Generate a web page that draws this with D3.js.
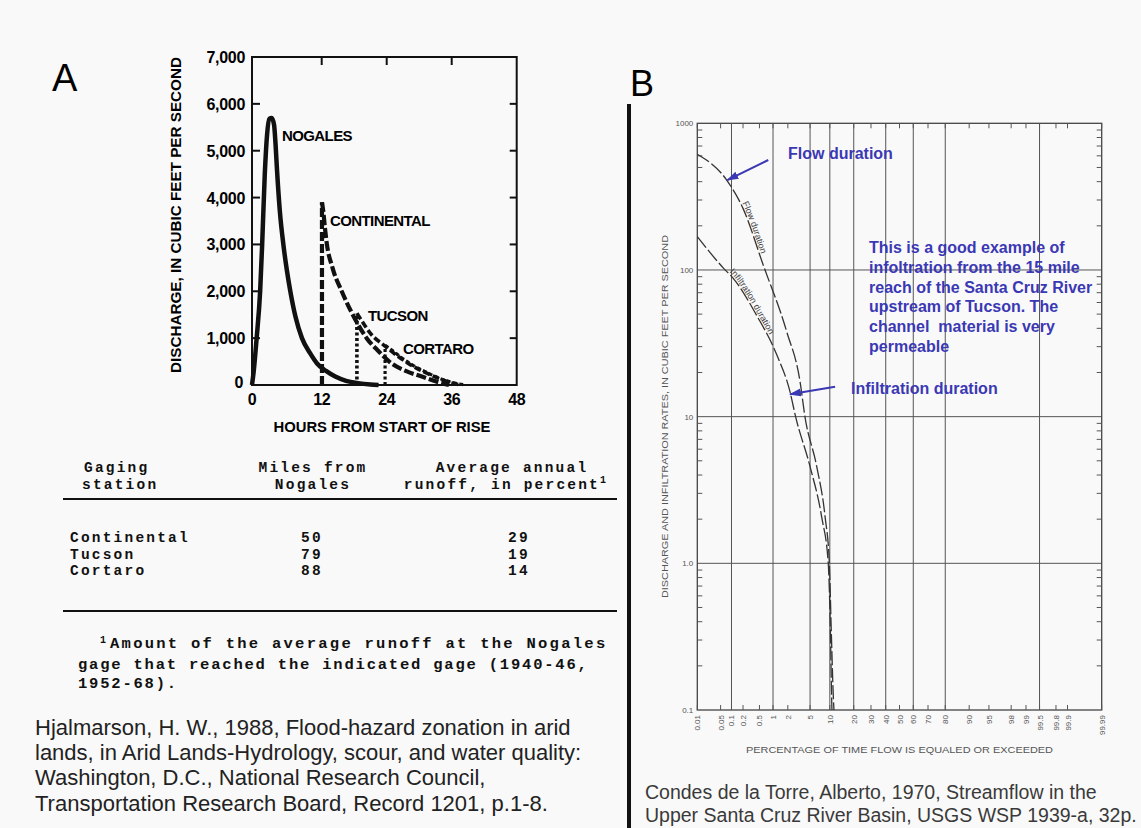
<!DOCTYPE html>
<html>
<head>
<meta charset="utf-8">
<script src="https://cdn.jsdelivr.net/npm/d3@7"></script>
<style>
  body { margin: 0; background: #f9f9f9; }
  svg { display: block; }
</style>
</head>
<body>
<div id="chart"></div>
<script>
// Size of the whole figure
var width = 1141, height = 828;

// Panel A hydrographs, [hours from start of rise, discharge cfs]
var nogales = [[0, 0], [0.3, 300], [0.8, 1000], [1.4, 2000], [1.75, 3000], [2.2, 4500], [2.6, 5350],
  [3.0, 5680], [3.4, 5700], [3.8, 5550], [4.05, 5150], [4.3, 4600], [4.8, 3700], [5.4, 3000],
  [6.0, 2450], [6.6, 2000], [7.5, 1450], [8.6, 1000], [10, 680], [11.2, 460], [12.8, 300],
  [14.5, 180], [16.5, 90], [18.7, 40], [21, 10], [22.5, 0]];
var continental = [[12.05, 3900], [12.3, 3700], [12.6, 3350], [12.9, 3050], [14, 2500], [15.7, 2000],
  [18.1, 1420], [20.3, 1000], [22.5, 720], [24.9, 460], [27.5, 300], [30.5, 180], [33, 80], [35.5, 0]];
var tucson = [[18.5, 1530], [19.5, 1350], [21, 1100], [23.7, 830], [26, 620], [28, 460], [30, 330],
  [32, 220], [34, 120], [36, 45], [37.5, 0]];
var cortaro = [[23.7, 850], [25, 740], [27, 560], [29, 410], [31, 290], [33, 180], [35, 90], [37, 30], [38.5, 0]];
var hydroNames = ["NOGALES", "CONTINENTAL", "TUCSON", "CORTARO"];
var yTicksA = [0, 1000, 2000, 3000, 4000, 5000, 6000, 7000];
var xTicksA = [0, 12, 24, 36, 48];

// Panel A table
var stations = ["Continental", "Tucson", "Cortaro"];
var milesFromNogales = [50, 79, 88];
var runoffPercent = [29, 19, 14];

// Panel B duration curves, [percent of time, cfs]
var flowPct = [0.01, 0.074, 0.2, 0.61, 1.9, 3.37, 4.1, 6.4, 8.55, 9.85, 10.5, 11.2, 11.4];
var flowCfs = [615, 410, 263, 108, 38, 17.3, 10, 4.56, 2.08, 1.0, 0.333, 0.12, 0.1];
var infilPct = [0.01, 0.06, 0.11, 0.43, 1.2, 2.2, 2.8, 5.0, 7.6, 9.5, 10.2, 10.6, 10.7];
var infilCfs = [169, 103, 88, 49, 26.4, 14.8, 10, 4.56, 2.08, 1.0, 0.333, 0.12, 0.1];
var probTicks = [0.01, 0.05, 0.1, 0.2, 0.5, 1, 2, 5, 10, 20, 30, 40, 50, 60, 70, 80, 90, 95, 98, 99, 99.5, 99.8, 99.9, 99.99];
var probGrid = [0.1, 1, 5, 10, 20, 40, 60, 80, 99.5];
var logTicks = [1000, 100, 10, 1, 0.1];
var logTickLabels = ["1000", "100", "10", "1.0", "0.1"];
// blue arrows, [from pct, from cfs, to pct, to cfs]
var arrows = [[0.79, 562, 0.077, 410], [11.8, 16.0, 2.2, 14.2]];

var blue = "#3b38b4";

var svg = d3.select("#chart").append("svg")
    .attr("width", width)
    .attr("height", height);

// ---------------- Panel A ----------------
var xA = d3.scaleLinear().domain([0, 12, 48]).range([252, 321.7, 516.7]);
var yA = d3.scaleLinear().domain([0, 7000]).range([385, 57]);

svg.append("text").attr("x", 52).attr("y", 91)
    .style("font-family", "Liberation Sans, Arial").style("font-size", "38px").text("A");

svg.append("rect")
    .attr("x", xA(0)).attr("y", yA(7000))
    .attr("width", xA(48) - xA(0)).attr("height", yA(0) - yA(7000))
    .attr("fill", "none").attr("stroke", "#111").attr("stroke-width", 2);

var gA = svg.append("g")
    .style("font-family", "Liberation Sans, Arial")
    .style("font-weight", "bold");

// ticks
yTicksA.slice(1, 7).forEach(function(v) {
    gA.append("line").attr("x1", xA(0)).attr("x2", xA(0) + 8).attr("y1", yA(v)).attr("y2", yA(v))
        .attr("stroke", "#111").attr("stroke-width", 2);
    gA.append("line").attr("x1", xA(48)).attr("x2", xA(48) - 7).attr("y1", yA(v)).attr("y2", yA(v))
        .attr("stroke", "#111").attr("stroke-width", 2);
});
xTicksA.slice(1, 4).forEach(function(v) {
    gA.append("line").attr("x1", xA(v)).attr("x2", xA(v)).attr("y1", yA(7000)).attr("y2", yA(7000) + 8)
        .attr("stroke", "#111").attr("stroke-width", 2);
});

// tick labels
var fmt = d3.format(",");
gA.selectAll(".ylab").data(yTicksA.slice(1)).join("text")
    .attr("x", xA(0) - 7).attr("y", d => yA(d) + 6)
    .attr("text-anchor", "end").style("font-size", "16px").style("letter-spacing", "-0.3px")
    .text(d => fmt(d));
gA.append("text").attr("x", xA(0) - 13).attr("y", yA(0) + 3)
    .attr("text-anchor", "middle").style("font-size", "16px").text("0");
gA.selectAll(".xlab").data(xTicksA).join("text")
    .attr("x", d => xA(d)).attr("y", 405)
    .attr("text-anchor", "middle").style("font-size", "16px").style("letter-spacing", "-0.5px")
    .text(d => d);

gA.append("text").attr("x", 382).attr("y", 432).attr("text-anchor", "middle")
    .attr("textLength", 217).attr("lengthAdjust", "spacingAndGlyphs")
    .style("font-size", "14px").text("HOURS FROM START OF RISE");
gA.append("text").attr("transform", "translate(181,215) rotate(-90)").attr("text-anchor", "middle")
    .attr("textLength", 316).attr("lengthAdjust", "spacingAndGlyphs")
    .style("font-size", "15px").text("DISCHARGE, IN CUBIC FEET PER SECOND");

// curves
var lineA = d3.line().x(d => xA(d[0])).y(d => yA(d[1])).curve(d3.curveMonotoneX);
var seriesA = [
    { data: nogales, dash: null, w: 4.5, rise: null },
    { data: continental, dash: "10,3", w: 4.2, rise: "9,3" },
    { data: tucson, dash: "7,3", w: 3.6, rise: "3,2.5" },
    { data: cortaro, dash: "4,2.5", w: 3.2, rise: "3,2.5" }
];
seriesA.forEach(function(s) {
    if (s.rise) {
        gA.append("line")
            .attr("x1", xA(s.data[0][0])).attr("x2", xA(s.data[0][0]))
            .attr("y1", yA(0)).attr("y2", yA(s.data[0][1]))
            .attr("stroke", "#111").attr("stroke-width", s.w).attr("stroke-dasharray", s.rise);
    }
    gA.append("path").datum(s.data)
        .attr("d", lineA)
        .attr("fill", "none").attr("stroke", "#111")
        .attr("stroke-width", s.w).attr("stroke-linejoin", "round")
        .attr("stroke-dasharray", s.dash);
});

// curve labels
var labelPos = [[282, 141], [330, 226], [368, 321], [403, 354]];
gA.selectAll(".hname").data(hydroNames).join("text")
    .attr("x", (d, i) => labelPos[i][0]).attr("y", (d, i) => labelPos[i][1])
    .style("font-size", "15px").style("letter-spacing", "-0.6px")
    .text(d => d);

// table
var mono = "Liberation Mono, Courier New, monospace";
var gT = svg.append("g").style("font-family", mono).style("font-weight", "bold")
    .style("font-size", "14.5px").style("letter-spacing", "2.2px").attr("fill", "#111");
gT.append("text").attr("x", 84).attr("y", 472).text("Gaging");
gT.append("text").attr("x", 82).attr("y", 489).text("station");
gT.append("text").attr("x", 313).attr("y", 472).attr("text-anchor", "middle").text("Miles from");
gT.append("text").attr("x", 313).attr("y", 489).attr("text-anchor", "middle").text("Nogales");
gT.append("text").attr("x", 512).attr("y", 472).attr("text-anchor", "middle").text("Average annual");
var hdr = gT.append("text").attr("x", 506).attr("y", 489).attr("text-anchor", "middle");
hdr.append("tspan").text("runoff, in percent");
hdr.append("tspan").attr("dy", -6).style("font-size", "10px").text("1");

svg.append("line").attr("x1", 63).attr("x2", 617).attr("y1", 499).attr("y2", 499)
    .attr("stroke", "#111").attr("stroke-width", 2.2);
svg.append("line").attr("x1", 63).attr("x2", 617).attr("y1", 611).attr("y2", 611)
    .attr("stroke", "#111").attr("stroke-width", 2.2);

stations.forEach(function(s, i) {
    var y = 542 + i * 16.5;
    gT.append("text").attr("x", 70).attr("y", y).text(s);
    gT.append("text").attr("x", 312).attr("y", y).attr("text-anchor", "middle").text(milesFromNogales[i]);
    gT.append("text").attr("x", 519).attr("y", y).attr("text-anchor", "middle").text(runoffPercent[i]);
});

// footnote
var gF = svg.append("g").style("font-family", mono).style("font-weight", "bold")
    .style("font-size", "15.5px").style("letter-spacing", "1.8px").attr("fill", "#111");
gF.append("text").attr("x", 100).attr("y", 643).style("font-size", "10px").text("1");
gF.append("text").attr("x", 110).attr("y", 648)
    .attr("textLength", 497).attr("lengthAdjust", "spacing")
    .text("Amount of the average runoff at the Nogales");
gF.append("text").attr("x", 78).attr("y", 669).text("gage that reached the indicated gage (1940-46,");
gF.append("text").attr("x", 78).attr("y", 687.5).text("1952-68).");

// citation A
var citeA = ["Hjalmarson, H. W., 1988, Flood-hazard zonation in arid",
    "lands, in Arid Lands-Hydrology, scour, and water quality:",
    "Washington, D.C., National Research Council,",
    "Transportation Research Board, Record 1201, p.1-8."];
svg.selectAll(".citeA").data(citeA).join("text")
    .attr("x", 35).attr("y", (d, i) => 735 + i * 25.2)
    .style("font-family", "Liberation Sans, Arial").style("font-size", "22px")
    .attr("fill", "#222").text(d => d);

// ---------------- Panel B ----------------
svg.append("rect").attr("x", 627).attr("y", 104).attr("width", 4).attr("height", 724).attr("fill", "#111");
svg.append("text").attr("x", 630).attr("y", 96)
    .style("font-family", "Liberation Sans, Arial").style("font-size", "36px").text("B");

// inverse normal (probability paper)
function normInv(p) {
    var a = [-3.969683028665376e+01, 2.209460984245205e+02, -2.759285104469687e+02, 1.383577518672690e+02, -3.066479806614716e+01, 2.506628277459239e+00];
    var b = [-5.447609879822406e+01, 1.615858368580409e+02, -1.556989798598866e+02, 6.680131188771972e+01, -1.328068155288572e+01];
    var c = [-7.784894002430293e-03, -3.223964580411365e-01, -2.400758277161838e+00, -2.549732539343734e+00, 4.374664141464968e+00, 2.938163982698783e+00];
    var d = [7.784695709041462e-03, 3.224671290700398e-01, 2.445134137142996e+00, 3.754408661907416e+00];
    var plow = 0.02425, q, r;
    if (p < plow) {
        q = Math.sqrt(-2 * Math.log(p));
        return (((((c[0] * q + c[1]) * q + c[2]) * q + c[3]) * q + c[4]) * q + c[5]) / ((((d[0] * q + d[1]) * q + d[2]) * q + d[3]) * q + 1);
    }
    if (p > 1 - plow) {
        q = Math.sqrt(-2 * Math.log(1 - p));
        return -(((((c[0] * q + c[1]) * q + c[2]) * q + c[3]) * q + c[4]) * q + c[5]) / ((((d[0] * q + d[1]) * q + d[2]) * q + d[3]) * q + 1);
    }
    q = p - 0.5; r = q * q;
    return (((((a[0] * r + a[1]) * r + a[2]) * r + a[3]) * r + a[4]) * r + a[5]) * q / (((((b[0] * r + b[1]) * r + b[2]) * r + b[3]) * r + b[4]) * r + 1);
}

var zB = d3.scaleLinear().domain([normInv(0.0001), normInv(0.9999)]).range([697.3, 1101.7]);
var xB = p => zB(normInv(p / 100));
var yB = d3.scaleLog().domain([0.1, 1000]).range([710, 123.3]);

var gB = svg.append("g").style("font-family", "Liberation Sans, Arial");

// grid
gB.selectAll(".vgrid").data(probGrid).join("line")
    .attr("x1", d => xB(d)).attr("x2", d => xB(d)).attr("y1", yB(1000)).attr("y2", yB(0.1))
    .attr("stroke", "#555").attr("stroke-width", 1);
gB.selectAll(".hgrid").data([100, 10, 1]).join("line")
    .attr("x1", xB(0.01)).attr("x2", xB(99.99)).attr("y1", d => yB(d)).attr("y2", d => yB(d))
    .attr("stroke", "#555").attr("stroke-width", 1);
gB.append("rect").attr("x", xB(0.01)).attr("y", yB(1000))
    .attr("width", xB(99.99) - xB(0.01)).attr("height", yB(0.1) - yB(1000))
    .attr("fill", "none").attr("stroke", "#444").attr("stroke-width", 1.3);

// minor log ticks
var minor = [];
[0.1, 1, 10, 100].forEach(function(dec) {
    for (var k = 2; k <= 9; k++) minor.push(dec * k);
});
gB.selectAll(".mtl").data(minor).join("line")
    .attr("x1", xB(0.01)).attr("x2", xB(0.01) + 5).attr("y1", d => yB(d)).attr("y2", d => yB(d))
    .attr("stroke", "#555");
gB.selectAll(".mtr").data(minor).join("line")
    .attr("x1", xB(99.99)).attr("x2", xB(99.99) - 5).attr("y1", d => yB(d)).attr("y2", d => yB(d))
    .attr("stroke", "#555");
gB.selectAll(".ptt").data(probTicks).join("line")
    .attr("x1", d => xB(d)).attr("x2", d => xB(d)).attr("y1", yB(1000)).attr("y2", yB(1000) + 5)
    .attr("stroke", "#555");
gB.selectAll(".ptb").data(probTicks).join("line")
    .attr("x1", d => xB(d)).attr("x2", d => xB(d)).attr("y1", yB(0.1)).attr("y2", yB(0.1) - 5)
    .attr("stroke", "#555");

// tick labels
gB.selectAll(".ylb").data(logTicks).join("text")
    .attr("x", xB(0.01) - 4).attr("y", d => yB(d) + 3)
    .attr("text-anchor", "end").style("font-size", "8px").attr("fill", "#555")
    .text((d, i) => logTickLabels[i]);
gB.selectAll(".xlb").data(probTicks).join("text")
    .attr("transform", d => "translate(" + (xB(d) + 3) + "," + (yB(0.1) + 5) + ") rotate(-90)")
    .attr("text-anchor", "end").style("font-size", "8px").attr("fill", "#555")
    .text(d => d);

gB.append("text").attr("x", 899.5).attr("y", 753).attr("text-anchor", "middle")
    .attr("textLength", 307).attr("lengthAdjust", "spacingAndGlyphs")
    .style("font-size", "9px").attr("fill", "#555")
    .text("PERCENTAGE OF TIME FLOW IS EQUALED OR EXCEEDED");
gB.append("text").attr("transform", "translate(668,416.5) rotate(-90)").attr("text-anchor", "middle")
    .attr("textLength", 363).attr("lengthAdjust", "spacingAndGlyphs")
    .style("font-size", "9px").attr("fill", "#555")
    .text("DISCHARGE AND INFILTRATION RATES, IN CUBIC FEET PER SECOND");

// duration curves
var lineB = d3.line().x(d => xB(d[0])).y(d => yB(d[1])).curve(d3.curveMonotoneX);
var curvesB = [
    { id: "flowCurve", data: d3.zip(flowPct, flowCfs), label: "Flow duration", startY: 203 },
    { id: "infilCurve", data: d3.zip(infilPct, infilCfs), label: "Infiltration duration", startY: 273 }
];
curvesB.forEach(function(c) {
    var p = gB.append("path").datum(c.data)
        .attr("id", c.id)
        .attr("d", lineB)
        .attr("fill", "none").attr("stroke", "#333").attr("stroke-width", 1.3)
        .attr("stroke-dasharray", "14,3");
    // find where the label starts along the curve
    var node = p.node(), total = node.getTotalLength(), off = 0;
    for (var l = 0; l < total; l += 1) {
        if (node.getPointAtLength(l).y >= c.startY) { off = l; break; }
    }
    gB.append("text").attr("dy", -1.5).style("font-size", "9px").attr("fill", "#444")
        .append("textPath").attr("href", "#" + c.id).attr("startOffset", off)
        .text(c.label);
});

// blue annotations
svg.append("defs").append("marker")
    .attr("id", "arrowBlue").attr("markerUnits", "userSpaceOnUse")
    .attr("markerWidth", 12).attr("markerHeight", 10)
    .attr("refX", 11).attr("refY", 4).attr("orient", "auto")
    .append("path").attr("d", "M0,0 L12,4 L0,8 Z").attr("fill", blue);
svg.selectAll(".arr").data(arrows).join("line")
    .attr("x1", d => xB(d[0])).attr("y1", d => yB(d[1]))
    .attr("x2", d => xB(d[2])).attr("y2", d => yB(d[3]))
    .attr("stroke", blue).attr("stroke-width", 2)
    .attr("marker-end", "url(#arrowBlue)");

var gN = svg.append("g").style("font-family", "Liberation Sans, Arial")
    .style("font-weight", "bold").style("font-size", "16px").attr("fill", blue);
gN.append("text").attr("x", 788).attr("y", 159).text("Flow duration");
gN.append("text").attr("x", 851).attr("y", 394).text("Infiltration duration");
var note = ["This is a good example of", "infoltration from the 15 mile", "reach of the Santa Cruz River",
    "upstream of Tucson. The", "channel  material is very", "permeable"];
gN.selectAll(".note").data(note).join("text")
    .attr("x", 869).attr("y", (d, i) => 253 + i * 19.8)
    .style("white-space", "pre")
    .text(d => d);

// citation B
var citeB = ["Condes de la Torre, Alberto, 1970, Streamflow in the",
    "Upper Santa Cruz River Basin, USGS WSP 1939-a, 32p."];
svg.selectAll(".citeB").data(citeB).join("text")
    .attr("x", 645).attr("y", (d, i) => 799 + i * 22.5)
    .style("font-family", "Liberation Sans, Arial").style("font-size", "19.5px")
    .attr("fill", "#3a3a3a").text(d => d);
</script>
</body>
</html>
